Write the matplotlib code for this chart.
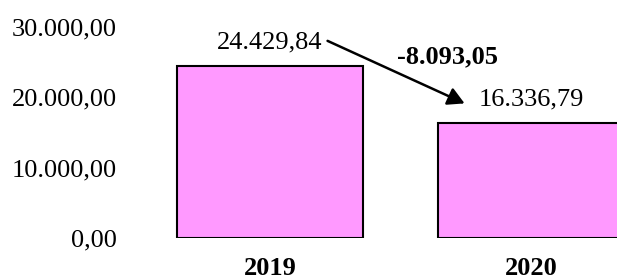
import matplotlib
matplotlib.use("Agg")
import matplotlib.pyplot as plt
from matplotlib.ticker import FuncFormatter

categories = ["2019", "2020"]
values = [24429.84, 16336.79]
yticks = [0, 10000, 20000, 30000]

def fmt(v):
    s = f"{v:,.2f}"
    return s.replace(",", "X").replace(".", ",").replace("X", ".")

plt.rcParams['font.family'] = ['Liberation Serif', 'DejaVu Serif']
FS = 19

fig = plt.figure(figsize=(6.17, 2.79), dpi=100)
ax = fig.add_axes([125/617, 41/279, 492/617, 233/279])
x = list(range(len(categories)))
ax.bar(x, values, width=0.71, color="#FF99FF", edgecolor="black", linewidth=1.5)
ax.set_xlim(-0.556, 1.329)
ax.set_ylim(0, 33128)
ax.set_yticks(yticks)
ax.yaxis.set_major_formatter(FuncFormatter(lambda v, p: fmt(v)))
ax.set_xticks(x)
ax.set_xticklabels(categories, fontweight="bold")
ax.tick_params(axis="both", length=0, labelsize=FS)
ax.tick_params(axis="y", pad=6)
ax.tick_params(axis="x", pad=14)
for s in ax.spines.values():
    s.set_visible(False)

for i, v in enumerate(values):
    ax.annotate(fmt(v), (i, v), xytext=(0, 17), textcoords="offset points",
                ha="center", va="center", fontsize=FS)

ax.annotate("", xy=(0.745, values[1] + 2800), xytext=(0.22, values[0] + 3600),
            arrowprops=dict(arrowstyle="-|>,head_length=1.0,head_width=0.55",
                            color="black", lw=1.8, shrinkA=0, shrinkB=0))
delta = values[1] - values[0]
ax.text(0.68, (values[0] + values[1]) / 2 + 5350, fmt(delta), ha="center",
        va="center", fontsize=FS, fontweight="bold")

fig.savefig("out.png", dpi=100)
